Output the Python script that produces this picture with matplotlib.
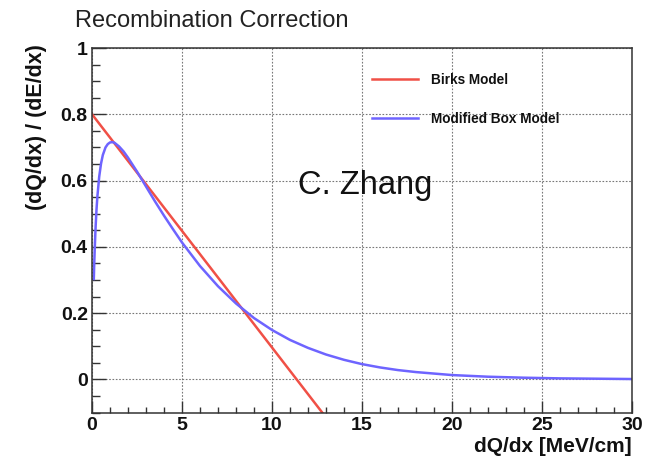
import matplotlib
matplotlib.use('Agg')
import matplotlib.pyplot as plt
from matplotlib.ticker import MultipleLocator

plt.rcParams.update({
    'font.family': ['Liberation Sans', 'DejaVu Sans'],
})

# ── data ──
birks_x = [0.0, 13.0]
birks_y = [0.800, -0.115]

box_x = [0.1, 0.125, 0.15, 0.2, 0.25, 0.3, 0.4, 0.5, 0.6, 0.75, 0.875, 1.0,
         1.125, 1.25, 1.5, 1.75, 2.0, 2.25, 2.5, 3.0, 3.5, 4.0, 4.5, 5.0, 6.0,
         7.0, 8.0, 9.0, 10.0, 11.0, 12.0, 13.0, 14.0, 15.0, 16.0, 17.0, 18.0,
         20.0, 22.0, 24.0, 26.0, 28.0, 30.0]
box_y = [0.303, 0.352, 0.393, 0.461, 0.513, 0.553, 0.612, 0.651, 0.677, 0.700,
         0.710, 0.715, 0.716, 0.714, 0.703, 0.688, 0.669, 0.648, 0.627, 0.582,
         0.537, 0.494, 0.453, 0.413, 0.342, 0.281, 0.229, 0.185, 0.149, 0.119,
         0.095, 0.075, 0.059, 0.046, 0.036, 0.028, 0.022, 0.013, 0.008, 0.005,
         0.003, 0.002, 0.001]

xticks = [0, 5, 10, 15, 20, 25, 30]
yticks = [0, 0.2, 0.4, 0.6, 0.8, 1]
ytick_labels = ['0', '0.2', '0.4', '0.6', '0.8', '1']

fig = plt.figure(figsize=(6.54, 4.59), dpi=100, facecolor='white')
ax = fig.add_axes([0.1407, 0.1013, 0.8257, 0.7941])

ax.plot(birks_x, birks_y, color='#f05046', lw=1.8, label='Birks Model')
ax.plot(box_x, box_y, color='#6e64ff', lw=1.8, label='Modified Box Model')

ax.set_xlim(0, 30)
ax.set_ylim(-0.1, 1)
ax.set_xticks(xticks)
ax.set_yticks(yticks)
ax.set_yticklabels(ytick_labels)
ax.xaxis.set_minor_locator(MultipleLocator(1))
ax.yaxis.set_minor_locator(MultipleLocator(0.05))

ax.grid(True, which='major', color='#777777', ls=(0, (1.5, 1.5)), lw=0.8)
ax.set_axisbelow(True)

for s in ax.spines.values():
    s.set_color('#333333')
    s.set_linewidth(1.1)

ax.tick_params(which='both', direction='in', top=False, right=False,
               colors='#333333', width=1.0)
ax.tick_params(axis='both', which='major', labelsize=14, pad=3,
               labelcolor='#111111')
ax.tick_params(axis='y', which='major', length=10)
ax.tick_params(axis='y', which='minor', length=5.5)
ax.tick_params(axis='x', which='major', length=9)
ax.tick_params(axis='x', which='minor', length=4.5)
for lab in ax.get_xticklabels() + ax.get_yticklabels():
    lab.set_fontweight('bold')

ax.set_xlabel('dQ/dx [MeV/cm]', fontsize=15, fontweight='bold', loc='right',
              color='#111111')
ax.xaxis.set_label_coords(1.0, -0.068)
ax.set_ylabel('(dQ/dx) / (dE/dx)', fontsize=15.5, fontweight='bold', loc='top',
              color='#111111')
ax.yaxis.set_label_coords(-0.083, 1.01)

leg = ax.legend(loc='upper left', bbox_to_anchor=(0.506, 0.95), frameon=False,
                borderpad=0, handlelength=3.4, handletextpad=0.9,
                labelspacing=1.8, prop={'weight': 'bold', 'size': 9.8})
for t in leg.get_texts():
    t.set_color('#111111')

ax.text(0.381, 0.599, 'C. Zhang', transform=ax.transAxes, fontsize=23.5,
        va='baseline', ha='left', color='#111111')

fig.text(75 / 654, 1 - 27 / 459, 'Recombination Correction', fontsize=17,
         va='baseline', ha='left', color='#222222')

fig.savefig('out.png', dpi=100, facecolor='white')
